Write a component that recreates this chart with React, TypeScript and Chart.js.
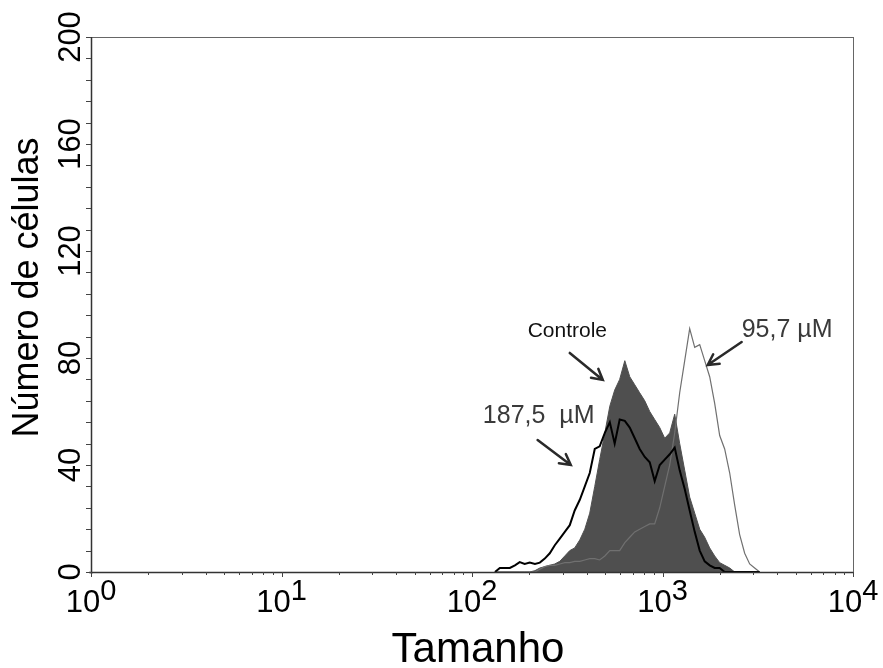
import React, { useEffect, useRef } from "react";
import { Chart, registerables } from "chart.js";

Chart.register(...registerables);

// Size channel values (log axis)
const SIZES = [
  132, 140, 149, 158, 168, 178, 189, 201, 214, 227,
  241, 256, 272, 289, 307, 326, 346, 368, 391, 415,
  441, 468, 498, 529, 561, 596, 634, 673, 715, 759,
  807, 857, 910, 967, 1027, 1091, 1159, 1231, 1308, 1389,
  1476, 1568, 1665, 1769, 1879, 1996, 2120, 2253, 2393, 2541,
  2700, 2868, 3046, 3236,
];

// Número de células — 187,5 µM (black line)
const CELLS_187 = [
  0, 1.5, 1.5, 1.5, 2.5, 3.7, 3, 3.5, 3, 3.5,
  5, 7, 10, 12.5, 15, 17.5, 23, 27, 32, 37,
  46, 47, 52, 56, 48, 57, 56.5, 54, 50, 46,
  43, 41, 34, 40, 42, 44, 46.5, 38, 31, 23,
  15, 8, 4, 2.5, 1.5, 1.5, 0, 0, 0, 0,
  0, 0, 0, 0,
];

// Controle (filled dark grey)
const CELLS_CONTROLE = [
  0, 0, 0, 0, 0, 0, 0, 0, 0.5, 1.5,
  2, 2.5, 3, 4, 6, 8, 9, 12, 16, 22,
  32, 42, 52, 62, 68, 72, 79, 73, 70, 67,
  64, 60, 57, 54, 50, 52, 59, 48, 38, 28,
  22, 16, 13, 9, 6, 3.5, 2.5, 1.5, 0, 0,
  0, 0, 0, 0,
];

// 95,7 µM (thin grey line)
const CELLS_95 = [
  0, 0, 0, 0, 0, 0, 0, 0, 0, 1,
  2, 2.5, 2.5, 3, 3.5, 3.5, 4, 4, 4.5, 5,
  5, 4.5, 6, 8, 8, 8, 11, 13, 15, 16,
  17, 18, 18, 24, 32, 40, 52, 67, 79, 91,
  84, 85, 79, 73, 63, 51, 46, 37, 25, 14,
  7, 3, 1.5, 0,
];

const X_MAJOR = [1, 10, 100, 1000, 10000];
const X_EXPONENTS = ["0", "1", "2", "3", "4"];
const Y_LABELS = [0, 40, 80, 120, 160, 200];
const Y_MINOR_STEP = 8;

const FONT = "'Liberation Sans', Arial, Helvetica, sans-serif";

type Ann = { text: string; x: number; y: number; size: number; color: string };
const ANNOTATIONS: Ann[] = [
  { text: "Controle", x: 196, y: 88, size: 21, color: "#111" },
  { text: "187,5  µM", x: 114, y: 55.7, size: 25, color: "#3a3a3a" },
  { text: "95,7 µM", x: 2603, y: 88, size: 25, color: "#3a3a3a" },
];
// arrows: [fromX, fromY, toX, toY] in data units
const ARROWS = [
  [326, 81.9, 486, 71.8],
  [221, 49.3, 330, 40],
  [2603, 86, 1727, 77.4],
];

const overlay = {
  id: "overlay",
  afterDraw(chart: any) {
    const { ctx, chartArea: a } = chart;
    const xs = chart.scales.x;
    const ys = chart.scales.y;
    ctx.save();

    // frame
    ctx.strokeStyle = "#666";
    ctx.lineWidth = 1;
    ctx.strokeRect(Math.round(a.left) + 0.5, Math.round(a.top) + 0.5, Math.round(a.right - a.left), Math.round(a.bottom - a.top));
    // main axes darker
    ctx.strokeStyle = "#333";
    ctx.lineWidth = 1.5;
    ctx.beginPath();
    ctx.moveTo(a.left + 0.5, a.top);
    ctx.lineTo(a.left + 0.5, a.bottom + 2);
    ctx.moveTo(a.left - 2, a.bottom + 0.5);
    ctx.lineTo(a.right, a.bottom + 0.5);
    ctx.stroke();

    // y ticks
    ctx.lineWidth = 1;
    ctx.strokeStyle = "#444";
    ctx.beginPath();
    for (let v = 0; v <= 200; v += Y_MINOR_STEP) {
      const py = Math.round(ys.getPixelForValue(v)) + 0.5;
      ctx.moveTo(a.left - 5, py);
      ctx.lineTo(a.left, py);
    }
    // x ticks (decades and 2..9)
    X_MAJOR.forEach((d, i) => {
      const px = Math.round(xs.getPixelForValue(d)) + 0.5;
      ctx.moveTo(px, a.bottom);
      ctx.lineTo(px, a.bottom + 5);
      if (i < X_MAJOR.length - 1) {
        for (let m = 2; m <= 9; m++) {
          const pm = Math.round(xs.getPixelForValue(d * m)) + 0.5;
          ctx.moveTo(pm, a.bottom);
          ctx.lineTo(pm, a.bottom + 3);
        }
      }
    });
    ctx.stroke();

    // y tick labels (rotated)
    ctx.fillStyle = "#000";
    ctx.font = `31px ${FONT}`;
    ctx.textAlign = "center";
    ctx.textBaseline = "alphabetic";
    Y_LABELS.forEach((v) => {
      const py = ys.getPixelForValue(v);
      ctx.save();
      ctx.translate(a.left - 11, py);
      ctx.rotate(-Math.PI / 2);
      ctx.fillText(String(v), 0, 0);
      ctx.restore();
    });

    // x tick labels 10^n
    ctx.textAlign = "left";
    X_MAJOR.forEach((d, i) => {
      const px = xs.getPixelForValue(d);
      ctx.font = `31px ${FONT}`;
      const wb = ctx.measureText("10").width;
      ctx.font = `29px ${FONT}`;
      const we = ctx.measureText(X_EXPONENTS[i]).width;
      const start = px - (wb + we) / 2;
      ctx.font = `31px ${FONT}`;
      ctx.fillText("10", start, a.bottom + 40);
      ctx.font = `29px ${FONT}`;
      ctx.fillText(X_EXPONENTS[i], start + wb, a.bottom + 28);
    });

    // axis titles
    ctx.textAlign = "center";
    ctx.font = `42px ${FONT}`;
    ctx.fillText("Tamanho", (a.left + a.right) / 2 + 6, a.bottom + 90);
    ctx.save();
    ctx.translate(38, (a.top + a.bottom) / 2 - 17);
    ctx.rotate(-Math.PI / 2);
    ctx.font = `36px ${FONT}`;
    ctx.fillText("Número de células", 0, 0);
    ctx.restore();

    // annotations
    ctx.textAlign = "left";
    ANNOTATIONS.forEach((an) => {
      ctx.font = `${an.size}px ${FONT}`;
      ctx.fillStyle = an.color;
      ctx.fillText(an.text, xs.getPixelForValue(an.x), ys.getPixelForValue(an.y));
    });

    // arrows
    ctx.strokeStyle = "#2a2a2a";
    ctx.lineWidth = 2.5;
    ctx.lineCap = "round";
    ARROWS.forEach(([x1, y1, x2, y2]) => {
      const p1x = xs.getPixelForValue(x1);
      const p1y = ys.getPixelForValue(y1);
      const p2x = xs.getPixelForValue(x2);
      const p2y = ys.getPixelForValue(y2);
      const ang = Math.atan2(p2y - p1y, p2x - p1x);
      const hl = 12;
      ctx.beginPath();
      ctx.moveTo(p1x, p1y);
      ctx.lineTo(p2x, p2y);
      ctx.moveTo(p2x - hl * Math.cos(ang - 0.5), p2y - hl * Math.sin(ang - 0.5));
      ctx.lineTo(p2x, p2y);
      ctx.lineTo(p2x - hl * Math.cos(ang + 0.5), p2y - hl * Math.sin(ang + 0.5));
      ctx.stroke();
    });

    ctx.restore();
  },
};

export default function App() {
  const ref = useRef<HTMLCanvasElement | null>(null);

  useEffect(() => {
    if (!ref.current) return;
    const pts = (arr: number[]) => SIZES.map((s, i) => ({ x: s, y: arr[i] }));
    const chart = new Chart(ref.current, {
      type: "line",
      data: {
        datasets: [
          {
            label: "187,5 µM",
            data: pts(CELLS_187),
            borderColor: "#000",
            borderWidth: 2,
            pointRadius: 0,
            fill: false,
            tension: 0,
            order: 0,
          },
          {
            label: "95,7 µM",
            data: pts(CELLS_95),
            borderColor: "#707070",
            borderWidth: 1.2,
            pointRadius: 0,
            fill: false,
            tension: 0,
            order: 1,
          },
          {
            label: "Controle",
            data: pts(CELLS_CONTROLE),
            borderColor: "#4f4f4f",
            backgroundColor: "#4f4f4f",
            borderWidth: 1,
            pointRadius: 0,
            fill: "origin",
            tension: 0,
            order: 2,
          },
        ],
      },
      options: {
        animation: false,
        responsive: true,
        maintainAspectRatio: false,
        layout: { padding: { left: 91, right: 30, top: 37, bottom: 96 } },
        plugins: { legend: { display: false }, tooltip: { enabled: false } },
        scales: {
          x: { type: "logarithmic", min: 1, max: 10000, display: false },
          y: { type: "linear", min: 0, max: 200, display: false },
        },
      },
      plugins: [overlay],
    });
    return () => chart.destroy();
  }, []);

  return (
    <div style={{ position: "absolute", left: 0, top: 0, width: 883, height: 668, background: "#fff" }}>
      <canvas ref={ref} />
    </div>
  );
}
